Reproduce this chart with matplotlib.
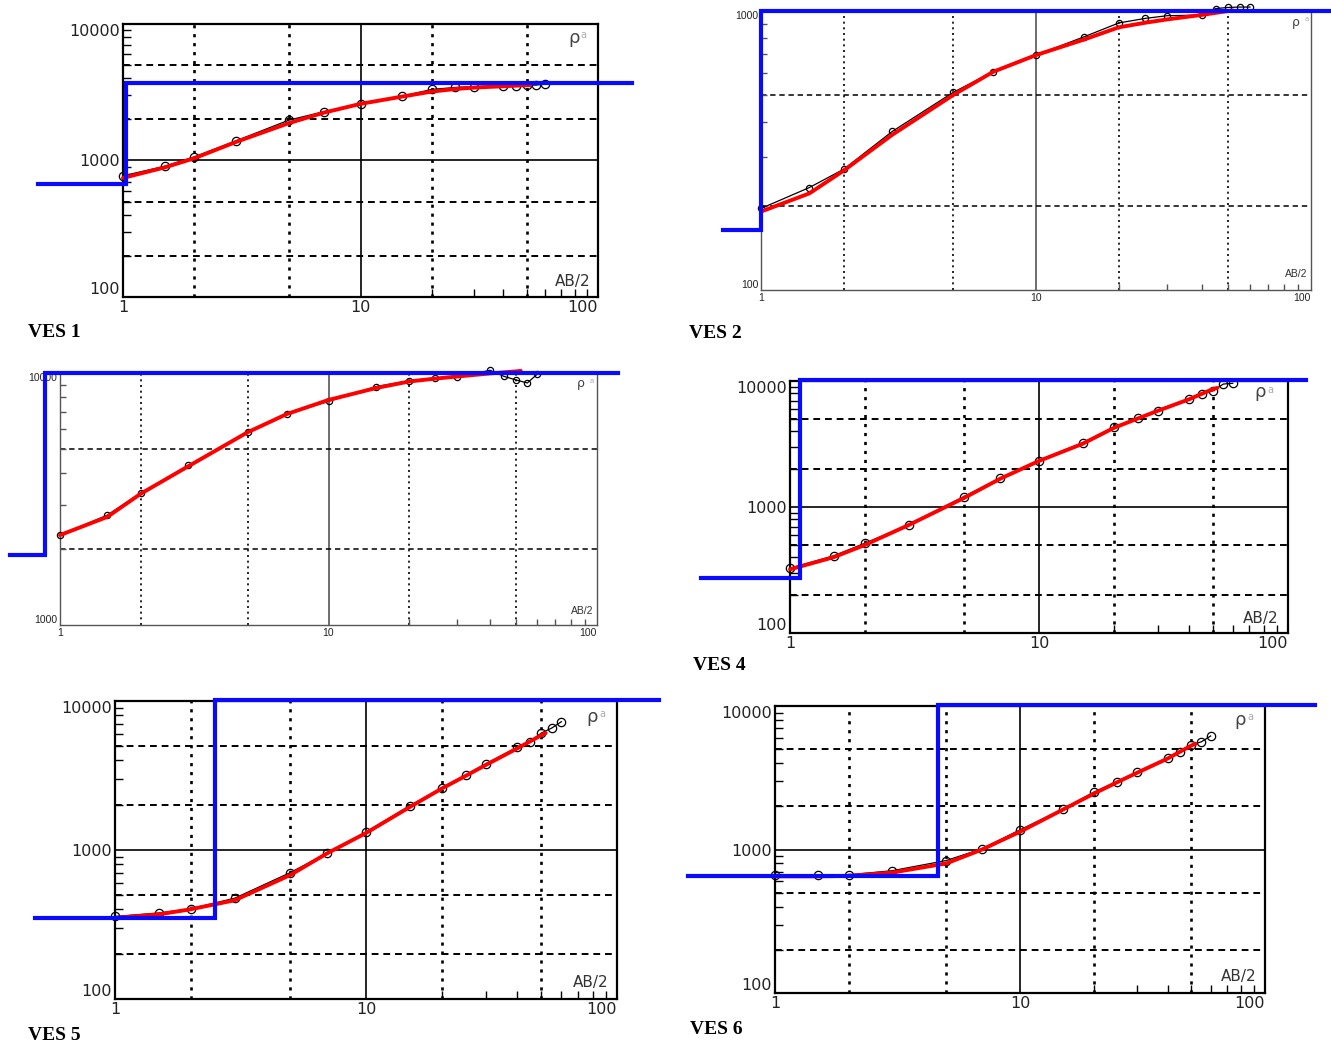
import matplotlib
matplotlib.use('Agg')
import matplotlib.pyplot as plt
import matplotlib.ticker as mticker

# ---- dados (AB/2 em m, rho_a em ohm.m) ----
ab_obs = [1, 1.5, 2, 3, 5, 7, 10, 15, 20, 25, 30, 40, 45, 50, 55, 60]

rho1 = [772, 908, 1064, 1396, 1977, 2276, 2590, 2965, 3318, 3428, 3480, 3520, 3540, 3560, 3568, 3640]
rho2 = [196, 233, 271, 370, 511, 606, 695, 809, 906, 941, 962, 967, 1020, 1030, 1033, 1033]
rho3 = [2274, 2728, 3340, 4297, 5820, 6874, 7717, 8830, 9315, 9560, 9640, 10250, 9700, 9380, 9130, 9910]
rho4 = [327, 410, 516, 723, 1211, 1694, 2322, 3245, 4291, 5058, 5820, 7154, 7834, 8377, 9460, 9590]
rho5 = [358, 378, 403, 475, 706, 952, 1318, 1987, 2600, 3192, 3784, 4887, 5336, 6100, 6590, 7260]
rho6 = [667, 667, 667, 711, 838, 1011, 1371, 1910, 2506, 2972, 3451, 4325, 4808, 5350, 5630, 6180]

# curvas calculadas (vermelho)
ab_fit = [1, 1.5, 2, 3, 5, 7, 10, 15, 20, 25, 30, 40, 50, 52]
fit1 = [745, 890, 1040, 1370, 1880, 2240, 2600, 2940, 3200, 3340, 3420, 3500, 3560, 3570]
fit2 = [191, 222, 268, 360, 500, 606, 695, 791, 874, 908, 933, 968, 1000, 1005]
fit3 = [2274, 2685, 3320, 4260, 5820, 6874, 7815, 8712, 9257, 9500, 9680, 9960, 10150, 10200]
fit4 = [320, 400, 500, 720, 1180, 1680, 2320, 3180, 4250, 5050, 5800, 7150, 8640, 8800]
fit5 = [350, 370, 400, 460, 680, 950, 1300, 1950, 2580, 3150, 3720, 4800, 5900, 6100]
fit6 = [650, 650, 655, 690, 800, 1000, 1330, 1900, 2450, 2950, 3420, 4300, 5300, 5450]

# modelo de camadas (azul): profundidade e resistividade
mod1_x = [0.44, 1.03, 1.03, 139]
mod1_y = [670, 670, 3690, 3690]
mod2_x = [0.73, 1.0, 1.0, 118]
mod2_y = [164, 164, 1000, 1000]
mod3_x = [0.65, 0.88, 0.88, 120]
mod3_y = [1900, 1900, 10000, 10000]
mod4_x = [0.44, 1.1, 1.1, 118]
mod4_y = [273, 273, 10200, 10200]
mod5_x = [0.48, 2.5, 2.5, 147]
mod5_y = [347, 347, 10200, 10200]
mod6_x = [0.44, 4.64, 4.64, 160]
mod6_y = [649, 649, 10100, 10100]

W, H = 1331, 1046


def box(l, t, r, b):
    """caixa em pixels -> fracao da figura"""
    return [l / W, 1 - b / H, (r - l) / W, (b - t) / H]


def painel(fig, pos, ylim, obs, fit, mod, fino=False, rho_xy=(0.95, 0.95), ab_xy=(0.946, 0.057)):
    ax = fig.add_axes(box(*pos))
    ax.set_xscale('log')
    ax.set_yscale('log')
    ax.set_xlim(1, 100)
    ax.set_ylim(*ylim)

    cor_eixo = '#555555' if fino else 'black'
    lw_eixo = 1.0 if fino else 1.6
    for s in ax.spines.values():
        s.set_color(cor_eixo)
        s.set_linewidth(lw_eixo)

    # grade: solida nas decadas, pontilhada/tracejada nas intermediarias
    lw_dot = 1.2 if fino else 1.9
    for xv in [2, 5, 20, 50]:
        ax.axvline(xv, color='black', lw=lw_dot, ls=(0, (1.2, 2.2)), zorder=1)
    ax.axvline(10, color=cor_eixo, lw=1.2, zorder=1)
    y0, y1 = ylim
    d = y0
    while d <= y1:
        for m in [2, 5]:
            if y0 < d * m < y1:
                ax.axhline(d * m, color='black', lw=1.1 if fino else 1.4,
                           ls=(0, (3.5, 2.5)), zorder=1)
        if y0 < d < y1:
            ax.axhline(d, color=cor_eixo, lw=1.2, zorder=1)
        d *= 10

    # ticks
    fs = 7.5 if fino else 11.5
    fam = 'Liberation Sans' if fino else 'DejaVu Sans'
    ax.set_xticks([1, 10, 100])
    ax.set_xticklabels(['1', '10', '100'], fontsize=fs, family=fam, color='#222222')
    ax.get_xticklabels()[-1].set_ha('right')
    decs = [v for v in [100, 1000, 10000] if y0 <= v <= y1]
    ax.set_yticks(decs)
    ax.set_yticklabels([str(v) for v in decs], fontsize=fs, family=fam, color='#222222')
    ax.get_yticklabels()[0].set_va('bottom')
    ax.get_yticklabels()[-1].set_va('top')
    sub = mticker.LogLocator(base=10, subs=range(2, 10))
    ax.xaxis.set_minor_locator(sub)
    ax.yaxis.set_minor_locator(sub)
    ax.xaxis.set_minor_formatter(mticker.NullFormatter())
    ax.yaxis.set_minor_formatter(mticker.NullFormatter())
    ax.tick_params(which='both', direction='in', color=cor_eixo, width=1.0)
    ax.tick_params(which='major', length=0, pad=2)
    ax.tick_params(which='minor', length=4 if fino else 6)

    # curvas
    ms = 4.5 if fino else 6
    ax.plot(ab_obs, obs, color='black', lw=0.9, marker='o', ms=ms, mfc='none',
            mec='black', mew=0.9, zorder=3, clip_on=False)
    ax.plot(ab_fit, fit, color='#ff0000', lw=2.8, zorder=4, clip_on=False,
            solid_capstyle='round', solid_joinstyle='round')
    ax.plot(mod[0], mod[1], color='#0a0aff', lw=3.0, zorder=5, clip_on=False,
            solid_joinstyle='miter')

    ax.text(rho_xy[0], rho_xy[1], 'ρ', transform=ax.transAxes, ha='center', va='center',
            fontsize=9 if fino else 13, color='#444444')
    ax.text(rho_xy[0] + 0.02, rho_xy[1] + 0.01, 'a', transform=ax.transAxes, ha='center',
            va='center', fontsize=5 if fino else 7, color='#aaaaaa')
    ax.text(ab_xy[0], ab_xy[1], 'AB/2', transform=ax.transAxes, ha='center', va='center',
            fontsize=7.5 if fino else 11, color='#333333', family=fam)
    return ax


def rotulo(fig, x, y, txt):
    fig.text(x / W, 1 - y / H, txt, ha='left', va='center', fontsize=14,
             family='Liberation Serif', weight='bold')


def main():
    fig = plt.figure(figsize=(W / 100, H / 100), dpi=100)

    painel(fig, (123, 24, 598, 297), (100, 10000), rho1, fit1, (mod1_x, mod1_y))
    painel(fig, (761, 11, 1311, 290), (100, 1000), rho2, fit2, (mod2_x, mod2_y),
           fino=True, rho_xy=(0.973, 0.96), ab_xy=(0.973, 0.057))
    painel(fig, (60, 373, 597, 625), (1000, 10000), rho3, fit3, (mod3_x, mod3_y),
           fino=True, rho_xy=(0.97, 0.96), ab_xy=(0.972, 0.056))
    painel(fig, (790, 381, 1288, 633), (100, 10000), rho4, fit4, (mod4_x, mod4_y),
           rho_xy=(0.944, 0.956))
    painel(fig, (115, 701, 617, 999), (100, 10000), rho5, fit5, (mod5_x, mod5_y),
           rho_xy=(0.951, 0.946), ab_xy=(0.948, 0.054))
    painel(fig, (775, 706, 1265, 993), (100, 10000), rho6, fit6, (mod6_x, mod6_y),
           rho_xy=(0.95, 0.951))

    rotulo(fig, 28, 332, 'VES 1')
    rotulo(fig, 689, 334, 'VES 2')
    rotulo(fig, 693, 666, 'VES 4')
    rotulo(fig, 28, 1035, 'VES 5')
    rotulo(fig, 690, 1030, 'VES 6')

    fig.savefig('out.png', dpi=100)


if __name__ == '__main__':
    main()
